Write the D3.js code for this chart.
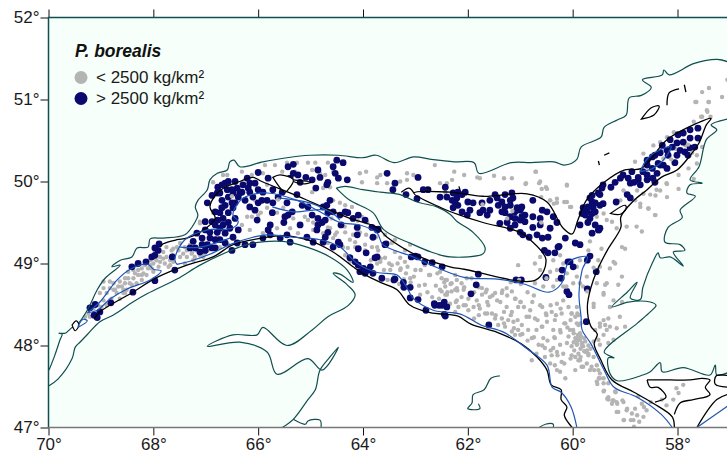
<!DOCTYPE html>
<html>
<head>
<meta charset="utf-8">
<script src="https://cdn.jsdelivr.net/npm/d3@7"></script>
<style>
    html, body { margin: 0; padding: 0; background: #fff; overflow: hidden; }
    svg { display: block; }
    text { font-family: "Liberation Sans", Arial, sans-serif; }
</style>
</head>
<body>
<div id="map"></div>
<script>
/**
 * Axis ticks, in degrees.
 */
const lonTicks = [70, 68, 66, 64, 62, 60, 58];
const latTicks = [52, 51, 50, 49, 48, 47];

/**
 * Legend entries.
 */
const legendTitle = "P. borealis";
const legendLabels = ["< 2500 kg/km²", "> 2500 kg/km²"];

/**
 * Coast lines, [longitude west, latitude].
 */
const northShore = [[69.99,47.70],[69.88,47.88],[69.78,48.07],[69.74,48.14],[69.80,48.15],[69.68,48.15],[69.55,48.22],[69.46,48.25],[69.26,48.43],[69.07,48.68],[68.92,48.82],[68.63,48.98],[68.79,48.96],[68.63,49.04],[68.41,49.08],[68.31,49.19],[68.10,49.20],[68.06,49.30],[67.81,49.31],[67.40,49.35],[67.20,49.51],[67.15,49.59],[67.20,49.69],[67.15,49.77],[66.97,49.90],[66.92,50.02],[66.78,50.10],[66.59,50.14],[66.54,50.24],[66.46,50.26],[66.35,50.18],[65.91,50.24],[65.45,50.29],[65.01,50.32],[64.47,50.32],[64.0,50.29],[63.75,50.32],[63.41,50.23],[63.03,50.30],[62.70,50.27],[62.26,50.24],[61.88,50.23],[61.79,50.10],[61.17,50.23],[60.79,50.23],[60.36,50.24],[60.16,50.20],[59.92,50.27],[59.84,50.42],[59.46,50.54],[59.40,50.66],[59.15,50.75],[58.98,50.81],[58.92,51.02],[58.69,51.05],[58.50,51.15],[58.67,51.24],[58.29,51.30],[58.26,51.36],[58.16,51.30],[57.68,51.44],[57.24,51.49],[57.0,51.45]];
const newfoundland = [[57.0,50.77],[57.36,50.69],[57.25,50.63],[57.45,50.51],[57.59,50.18],[57.76,50.02],[57.53,49.98],[57.76,49.96],[57.82,49.86],[57.66,49.82],[57.95,49.65],[57.91,49.56],[58.18,49.44],[58.24,49.26],[57.95,49.23],[57.86,49.16],[58.08,49.14],[57.89,48.97],[58.14,49.08],[58.33,49.07],[58.37,49.13],[58.47,49.02],[58.66,48.71],[58.71,48.56],[58.90,48.58],[58.77,48.77],[58.96,48.65],[59.25,48.47],[58.94,48.53],[58.52,48.53],[58.41,48.49],[58.52,48.41],[58.77,48.27],[59.40,47.92],[59.21,47.85],[59.32,47.85],[59.29,47.66],[59.15,47.57],[58.66,47.64],[58.52,47.68],[58.33,47.79],[58.29,47.68],[57.89,47.73],[57.38,47.64],[57.28,47.76],[57.25,47.64],[57.0,47.68]];
const southShore = [[69.99,47.51],[69.82,47.59],[69.55,47.84],[69.49,47.98],[69.40,48.04],[69.25,48.14],[69.02,48.29],[68.77,48.37],[68.39,48.53],[68.12,48.63],[67.55,48.81],[67.11,48.98],[66.59,49.14],[66.16,49.24],[65.53,49.27],[65.07,49.20],[64.63,49.08],[64.30,48.92],[64.19,48.77],[64.44,48.87],[64.57,48.88],[64.30,48.74],[64.15,48.62],[64.28,48.49],[64.67,48.35],[64.97,48.19],[65.45,48.00],[65.91,48.22],[66.02,48.13],[66.48,48.13],[66.97,47.99],[66.35,48.04],[65.83,47.92],[65.64,47.65],[65.05,47.84],[64.78,47.70],[64.47,47.98],[64.63,47.86],[64.82,47.70],[64.91,47.46],[65.05,47.34],[65.33,47.10],[65.54,47.00]];
const anticosti = [[64.51,49.92],[64.34,49.94],[64.0,49.90],[63.67,49.87],[63.29,49.84],[62.97,49.75],[62.59,49.69],[62.34,49.60],[62.20,49.51],[61.90,49.38],[61.67,49.19],[61.71,49.12],[62.34,49.08],[62.70,49.14],[63.04,49.23],[63.60,49.41],[63.81,49.62],[64.25,49.77]];
const smallCoasts = [
    [[61.39,47.63],[61.56,47.60],[61.69,47.46],[61.90,47.40],[61.92,47.30],[62.0,47.23],[61.77,47.23],[61.80,47.29]],
    [[60.64,47.0],[60.52,47.04],[60.37,47.04],[60.37,47.0]],
    [[65.33,47.10],[65.10,47.04],[65.05,47.08],[64.82,47.09],[64.80,47.0]],
];

/**
 * Black contours.
 */
const blackContours = [
    [[69.13,48.32],[69.02,48.41],[68.39,48.65],[67.93,48.83],[67.36,48.98],[66.86,49.08],[66.48,49.23],[66.02,49.30],[65.53,49.34],[65.07,49.29],[64.57,49.14],[64.19,48.96],[63.98,48.87],[63.67,48.77],[63.35,48.68],[63.10,48.49],[62.72,48.40],[62.20,48.36],[61.94,48.26],[61.44,48.16],[60.98,48.02],[60.68,47.86],[60.49,47.70],[60.41,47.52],[60.22,47.46],[60.22,47.34],[60.11,47.25],[60.16,47.15],[60.01,47.0]],
    [[67.87,49.20],[67.81,49.24],[67.55,49.29],[67.36,49.31],[67.11,49.38],[66.82,49.55],[66.92,49.69],[66.78,49.86],[66.63,49.93],[66.35,50.0],[66.10,50.05],[65.93,50.0],[65.43,49.87],[65.20,49.81],[64.63,49.65],[64.25,49.55],[63.73,49.44],[63.54,49.32],[62.91,49.08],[62.34,48.96],[62.07,48.93],[60.70,48.80],[60.51,49.05],[60.81,49.29],[61.0,49.38],[61.71,49.50],[62.15,49.59],[62.51,49.68],[63.03,49.86],[62.34,49.87],[61.71,49.82],[60.87,49.85],[60.49,49.75],[60.18,49.43],[60.01,49.36],[59.90,49.53],[59.74,49.77],[59.40,49.99],[59.02,50.14],[58.69,50.16],[58.20,50.51],[57.63,50.71],[57.36,50.77],[57.45,50.69],[57.59,50.47],[57.78,50.30],[58.01,50.14],[58.31,50.05],[58.58,49.90],[58.83,49.77],[59.08,49.57],[59.08,49.44],[59.34,49.16],[59.53,48.92],[59.65,48.71],[59.72,48.47],[59.65,48.23],[59.53,48.14],[59.59,48.02],[59.46,47.82],[59.25,47.58],[58.83,47.43],[58.45,47.29],[58.10,47.13],[58.06,47.0]],
    [[58.58,47.58],[58.52,47.49],[58.37,47.49],[58.22,47.37],[58.43,47.31]],
    [[58.58,47.58],[58.14,47.58],[57.76,47.58],[57.53,47.60],[57.38,47.58],[57.47,47.49],[57.38,47.40],[57.70,47.34],[57.95,47.30],[58.06,47.16]],
    [[57.63,47.0],[57.25,47.34],[57.0,47.41]],
    [[57.0,47.63],[57.26,47.63],[57.28,47.53],[57.0,47.49]],
    [[63.27,49.87],[63.12,49.92],[63.03,49.86]],
    [[62.80,49.93],[62.72,49.91]],
    [[62.17,49.94],[62.15,49.90]],
    [[57.97,51.13],[58.16,51.08],[58.20,50.93]],
    [[57.87,51.18],[57.84,51.09]],
    [[59.40,50.32],[59.30,50.35]],
    [[59.51,50.25],[59.49,50.20]],
    [[65.33,50.02],[64.99,49.99],[65.16,49.97],[65.33,50.0]],
];
const blackIslands = [
    [[69.55,48.25],[69.47,48.30],[69.42,48.25],[69.49,48.18]],
    [[58.69,50.76],[58.50,50.90],[58.35,50.92],[58.45,50.81]],
    [[59.28,49.61],[59.0,49.71],[58.98,49.67],[59.09,49.60]],
    [[65.72,50.05],[65.58,50.08],[65.33,50.02],[65.43,49.90],[65.49,49.87]],
];

/**
 * Blue contours.
 */
const blueContours = [
    [[69.44,48.23],[69.34,48.32],[69.26,48.30],[69.44,48.22]],
    [[69.26,48.40],[69.02,48.53],[68.69,48.80],[68.44,48.93],[68.10,48.99],[68.0,48.93],[67.85,48.91],[68.06,48.80],[68.50,48.69],[68.82,48.57],[69.07,48.43],[69.26,48.40]],
    [[67.55,48.99],[67.24,49.04],[66.86,49.13],[66.54,49.23],[66.10,49.32],[65.83,49.35],[65.33,49.32],[64.82,49.29],[64.44,49.20],[64.11,49.0],[63.73,48.89],[63.35,48.86],[63.14,48.68],[63.05,48.58],[62.66,48.43],[62.13,48.38],[61.75,48.25],[61.31,48.16],[60.87,47.96],[60.49,47.76],[60.39,47.49],[60.22,47.43],[60.03,47.25],[59.92,47.0]],
    [[67.55,48.99],[67.59,49.05],[67.40,49.29],[66.96,49.41],[66.50,49.43],[66.38,49.51],[66.48,49.59],[66.38,49.74],[66.25,49.81],[65.83,49.86],[65.26,49.77],[64.82,49.63],[64.44,49.50],[64.06,49.47],[63.73,49.37],[63.62,49.23],[63.04,49.08],[62.70,48.98],[62.07,48.83],[61.44,48.81],[60.93,48.75],[60.45,48.65],[60.22,48.75],[60.07,49.02],[59.72,49.08],[59.82,48.92],[59.88,48.63],[59.84,48.35],[59.82,48.19],[59.65,48.02],[59.40,47.70],[59.21,47.49],[58.77,47.37],[58.31,47.16],[58.10,47.0]],
    [[65.73,49.69],[65.33,49.63],[64.69,49.65],[64.44,49.53]],
    [[65.62,49.80],[65.01,49.74],[64.69,49.65]],
    [[67.49,49.20],[67.11,49.20],[66.54,49.31]],
    [[58.71,50.12],[58.56,50.29],[58.20,50.42],[58.12,50.43],[58.27,50.26],[58.47,50.16],[58.71,50.12]],
    [[57.63,47.0],[57.0,47.28]],
];

/**
 * Catch below the density limit.
 */
const lowCatch = [[62.50,48.82],[62.40,48.80],[62.31,48.76],[62.21,48.80],[62.12,48.76],[62.02,48.82],[61.93,48.82],[62.43,48.72],[62.31,48.66],[62.21,48.70],[62.08,48.68],[62.12,48.59],[61.99,48.57],[62.40,48.62],[62.50,48.66],[62.21,48.55],[62.34,48.51],[62.18,48.47],[62.08,48.49],[61.99,48.43],[61.89,48.47],[62.24,48.41],[61.83,48.55],[61.73,48.70],[61.73,48.62],[61.64,48.68],[61.58,48.59],[61.48,48.64],[61.61,48.49],[61.77,48.45],[61.67,48.39],[61.54,48.39],[61.38,48.53],[61.35,48.64],[61.26,48.70],[61.16,48.66],[61.10,48.57],[61.0,48.53],[61.04,48.47],[61.26,48.47],[61.16,48.41],[61.48,48.33],[61.35,48.33],[61.23,48.31],[61.42,48.25],[61.29,48.23],[61.13,48.29],[61.04,48.19],[61.16,48.17],[61.0,48.13],[61.10,48.13],[60.97,48.25],[60.88,48.35],[60.81,48.43],[60.62,48.49],[60.72,48.33],[60.85,48.19],[60.78,48.09],[60.69,48.19],[60.59,48.23],[60.50,48.37],[60.40,48.41],[60.30,48.51],[60.18,48.55],[60.34,48.31],[60.49,48.29],[60.21,48.39],[60.08,48.47],[60.02,48.39],[59.92,48.47],[59.89,48.37],[60.14,48.27],[60.37,48.19],[60.56,48.09],[60.65,48.01],[60.53,47.97],[60.34,48.09],[60.24,48.19],[60.05,48.19],[59.89,48.25],[59.86,48.15],[59.95,48.09],[60.08,48.11],[59.86,48.07],[59.92,48.01],[60.02,47.99],[59.80,47.99],[60.11,48.03],[60.24,48.01],[60.37,47.97],[60.30,47.92],[60.40,47.88],[60.18,47.90],[60.02,47.88],[59.89,47.90],[59.73,47.94],[59.89,47.82],[59.73,47.78],[59.60,47.86],[59.83,47.74],[59.67,47.70],[59.54,47.76],[59.48,47.66],[59.54,47.56],[59.41,47.60],[59.32,47.54],[59.41,47.44],[59.32,47.37],[59.22,47.33],[59.19,47.44],[59.16,47.19],[60.21,47.80],[60.34,47.76],[60.43,47.78],[60.30,47.70],[60.14,47.60],[60.24,47.68],[59.95,47.70],[60.53,47.86],[60.69,47.90],[60.78,47.82],
    [61.04,48.98],[60.72,49.0],[60.62,49.08],[60.24,49.10],[60.18,49.0],[60.37,49.04],[60.30,48.92],[60.62,48.92],[60.43,48.90],[60.11,48.88],[59.92,48.96],[59.86,49.04],[59.92,48.84],[59.99,48.76],[59.73,48.84],[59.80,48.72],[59.86,48.76],[60.30,48.80],[60.37,48.72],[60.18,48.72],[60.56,48.72],[60.72,48.76],
    [59.48,48.96],[59.22,49.02],[59.35,48.76],[59.41,48.64],[59.22,48.55],[59.54,48.76],[59.60,48.51],[59.41,48.31],[59.38,48.25],[59.48,48.23],[59.57,48.19],[59.41,48.13],[59.32,48.03],[59.48,48.01],[59.60,48.05],
    [59.98,48.15],[59.90,48.13],[59.84,48.11],[59.78,48.09],[59.82,48.03],[59.76,48.05],[59.93,48.07],[59.98,48.04],[59.70,48.0],[59.66,47.96],[59.78,47.93],[59.70,47.88],[59.85,47.96],
    [63.58,49.07],[63.39,49.14],[63.20,49.02],[63.48,48.92],[63.0,48.92],[62.72,48.86],[62.43,48.80],[63.29,48.92],[62.82,48.74],[63.10,48.82],[62.53,48.68],[62.24,48.68],[62.91,48.62],[62.68,48.59],[62.43,48.62],[63.20,49.16],[63.45,49.25],[63.71,49.16],[62.82,48.98],[62.53,48.90],[62.24,48.86],[63.96,49.23],[64.25,49.29],[64.34,49.38],[64.06,49.38],[64.63,49.43],[64.53,49.35],[64.34,49.10],[64.25,49.02],[63.67,49.02],[63.29,49.07],[63.94,49.35],[63.83,49.20],[64.15,49.26],[64.67,49.25],[64.29,49.19],[63.39,49.29],[63.10,49.23],[63.58,49.35],
    [65.87,50.2],[65.68,50.2],[65.45,50.23],[65.26,50.23],[65.05,50.23],[64.91,50.23],[64.72,50.08],[64.57,50.12],[64.67,50.23],[64.82,50.10],[64.97,50.14],[65.07,50.05],[65.30,50.12],[65.54,50.12],[66.31,50.12],[66.59,50.08],[66.12,50.08],[65.91,50.10],[65.83,49.96],[64.06,50.10],[63.94,50.12],[62.63,50.20],[63.67,50.08],[64.02,49.99],[63.73,49.98],[63.54,49.98],[63.16,50.10],[63.04,50.08],[63.16,50.02],[63.29,50.0],[62.53,49.98],[62.40,49.98],[62.43,49.87],[63.73,50.05],[62.26,50.12],[62.07,50.08],[61.82,50.05],[61.50,50.07],[61.31,50.04],[61.16,50.04],[60.70,50.12],[60.89,49.98],[60.64,49.98],[60.51,49.93],[60.11,49.96],[60.60,49.81],[60.30,49.74],[60.16,49.75],[60.03,49.69],[60.43,49.77],[62.30,50.02],[61.77,50.04],
    [66.86,49.99],[66.67,50.08],[67.01,49.53],[67.11,49.51],[66.73,49.69],[66.86,49.62],[66.67,49.57],[66.50,49.71],[66.21,49.57],[66.12,49.57],[66.0,49.59],[66.06,49.77],[65.83,49.68],[65.64,49.62],[65.52,49.68],[65.33,49.55],[65.11,49.57],[64.95,49.50],[64.67,49.44],[64.50,49.38],[64.97,49.87],[64.76,49.92],[64.63,49.93],[64.57,49.77],[64.44,49.74],[64.34,49.71],[64.21,49.69],[64.02,49.57],[63.92,49.50],[64.95,49.41],[64.76,49.37],[64.57,49.31],[64.38,49.20],[64.19,49.35],[63.96,49.16],[63.73,49.20],[64.15,49.20],[67.24,49.04],[67.40,49.0],[67.26,49.13],[67.05,49.08],[66.96,49.16],[66.73,49.20],[66.57,49.23],[67.05,49.29],[66.78,49.32],[65.91,49.37],[65.64,49.43],[65.39,49.43],[65.24,49.37],[65.77,49.44],[66.16,49.41],[66.31,49.47],[65.05,49.53],[64.60,49.55],[64.35,49.45],[63.75,49.32],
    [69.30,48.35],[69.24,48.39],[69.14,48.45],[69.05,48.49],[68.95,48.55],[69.02,48.64],[68.83,48.78],[68.89,48.64],[68.76,48.68],[68.64,48.78],[68.54,48.76],[68.67,48.72],[68.57,48.68],[68.48,48.82],[68.38,48.82],[68.29,48.86],[68.41,48.74],[68.32,48.76],[68.22,48.80],[68.13,48.86],[68.0,48.90],[68.10,48.94],[68.29,48.92],[68.64,48.57],[68.70,48.64],[68.57,48.64],[68.22,48.94],[68.0,49.0],[67.87,49.02],[67.90,48.96],[67.78,49.0],[67.68,49.04],[67.75,49.08],[67.87,49.08],[67.81,49.14],[67.65,49.16],[67.55,49.20],[67.49,49.25],[67.62,49.10],[68.06,49.04],[67.97,49.14],[67.75,49.20],[67.43,49.12],[67.40,49.20],[67.30,49.23],[67.36,49.16],[67.11,49.10],[67.21,49.08],[67.02,49.12],[68.95,48.78],[67.11,49.49],[68.48,48.90],[67.52,49.16],[67.68,48.98],[68.76,48.76],[68.80,48.57],
    [69.21,48.35],[69.11,48.39],[68.99,48.47],[68.89,48.49],[68.83,48.55],[68.73,48.68],[68.51,48.68],[68.45,48.76],[68.83,48.70],[68.95,48.70],[68.60,48.72],[68.54,48.82],[68.35,48.88],[68.19,48.88],[68.03,48.94],[67.94,49.04],[67.81,49.06],[67.71,48.96],[67.62,49.02],[67.49,49.08],[67.36,49.08],[67.27,49.12],[67.17,49.16],[67.62,49.18],[67.87,49.16],[68.16,48.98],[68.22,48.86],[68.06,48.98],[68.38,48.92],[68.32,48.98],[68.54,48.64],
    [58.21,49.98],[58.40,49.90],[58.52,49.84],[58.71,49.73],[58.56,49.67],[58.43,49.59],[58.68,49.39],[58.97,49.45],[58.78,49.45],[59.16,49.43],[59.25,49.51],[59.35,49.53],[59.0,49.18],[59.06,49.20],[59.45,49.18],[59.67,49.27],[59.19,49.0],[59.51,49.04],[59.29,48.94],[59.06,48.84],[59.13,48.74],[59.41,48.62],[59.60,48.47],[59.29,48.47],[59.06,48.53],[59.48,48.27],[59.32,48.33],[59.10,48.35],[59.0,48.23],[59.16,48.21],[59.29,48.23],[59.35,48.19],[59.22,48.07],[59.51,48.07],[60.02,48.39],[59.95,48.35],[59.92,48.27],[59.99,48.19],[59.89,48.07],[59.95,47.86],[59.86,47.82],[59.70,47.90],[59.80,47.74],[59.64,47.74],[59.51,47.70],[59.48,47.60],[59.41,47.54],[59.32,47.34],[59.25,47.29],[59.16,47.31],[59.03,47.31],[59.13,47.19],[58.97,47.21],[58.87,47.17],[58.75,47.38],[58.68,47.29],[58.81,47.23],[58.30,47.34],[58.21,47.27],[58.59,47.21],[59.03,47.09],[58.84,47.09],[58.65,47.13],[57.98,47.42],[58.02,47.48],[57.89,47.52],[58.08,47.34],[59.38,48.74],[59.70,49.16],
    [57.44,50.87],[57.37,50.79],[57.53,50.79],[57.69,50.73],[57.76,50.64],[58.07,50.60],[58.20,50.54],[58.33,50.48],[58.46,50.44],[58.65,50.34],[58.81,50.24],[57.63,50.32],[57.53,50.42],[57.63,50.22],[57.79,50.16],[57.98,50.08],[57.69,50.03],[57.98,49.91],[58.20,49.97],[58.33,49.89],[58.42,49.83],[58.65,49.85],[58.81,49.77],[58.55,49.67],[58.71,49.69],[58.42,49.59],[58.20,49.81],[57.66,50.97],[57.41,50.97],[57.64,50.97],[57.53,51.09],[57.40,51.14],[57.40,50.97],[57.43,50.85],[57.55,50.79],[57.15,51.03],[57.05,51.24],
    [60.43,49.77],[60.30,49.79],[60.11,49.75],[60.05,49.69],[60.36,49.73],[60.59,49.91],[60.49,49.91],[60.71,50.12],[60.90,49.97],[60.62,50.0],[60.11,49.95],
    [59.41,49.61],[59.09,49.77],[58.77,49.89],[59.03,49.89],[58.04,50.40],[57.85,50.44],[58.27,50.28],[59.54,49.57],
    [63.28,48.94],[63.18,48.88],[63.03,48.84],[62.90,48.92],[62.74,48.86],[62.58,48.88],[62.45,48.77],[62.33,48.75],[62.20,48.67],[62.07,48.71],[62.39,48.65],[62.61,48.73],[62.77,48.65],[62.93,48.73],[63.09,48.77],[63.22,48.81],[63.31,48.75],[63.41,48.84],[63.53,48.80],[63.60,48.92],[63.73,49.0],[63.85,49.04],[63.66,49.06],[63.50,49.0],[63.34,49.0],[63.15,48.96],[62.55,48.57],[62.23,48.53],[62.04,48.49],[61.79,48.49],[61.63,48.53],[61.44,48.55],[61.25,48.61],[61.09,48.57],[60.99,48.53],[60.93,48.47],[60.77,48.53],[60.83,48.35],[61.05,48.31],[61.18,48.37],[61.31,48.41],[61.47,48.37],[61.63,48.39],[61.79,48.37],[61.88,48.33],[61.31,48.27],[61.12,48.21],[60.96,48.14],[60.86,48.06],[60.74,48.10],[60.58,48.0],[60.48,48.06],[60.35,48.10],[60.23,48.16],[60.10,48.22],[60.42,47.94],[60.29,47.88],[60.16,47.78],[60.04,47.84],[59.91,48.02],[59.91,48.10],[59.82,48.0],[59.75,47.92],[59.85,47.86],[59.97,47.94],[59.59,47.70],[59.50,47.60],[59.53,47.53],[59.40,47.45],[59.34,47.35],[59.24,47.33],[59.15,47.29],[59.05,47.33],[58.96,47.23],[58.89,47.09],[58.77,47.15],[58.64,47.25],[58.51,47.31],[59.02,47.09],[58.83,47.01],[58.73,47.07],[59.18,47.43],[60.58,48.23],[60.67,48.31],[60.51,48.39],[60.32,48.37],[60.16,48.27],[60.04,48.31],[59.91,48.39],[59.85,48.27],[60.23,48.45],[60.42,48.49],[60.58,48.47],[60.74,48.61],[60.86,48.65],[60.99,48.75],[61.18,48.77],[61.34,48.67],[61.53,48.61],[61.66,48.65],[61.79,48.71],[61.88,48.65]];

/**
 * Catch above the density limit.
 */
const highCatch = [[69.11,48.50],[69.21,48.46],[69.07,48.34],[69.13,48.37],[69.02,48.41],[68.81,48.52],[68.39,48.65],[67.97,48.79],[67.59,48.92],[68.41,48.96],[68.29,49.0],[68.14,49.02],[68.03,49.08],[67.97,49.10],[67.91,49.16],[67.97,49.19],[67.89,49.24],[67.64,49.08],[67.24,49.27],[67.20,49.19],[67.07,49.23],[67.01,49.16],[67.01,49.51],[67.17,49.37],[66.97,49.74],[66.82,49.19],
    [66.77,49.93],[66.78,49.86],[66.63,49.98],[66.57,50.0],[66.59,49.90],[66.50,49.90],[66.40,49.92],[66.31,49.87],[66.48,49.86],[66.57,49.81],[66.38,49.81],[66.29,49.96],[66.21,50.04],[66.16,49.98],[66.06,49.98],[66.0,50.11],[65.81,50.04],[65.58,50.02],[65.43,50.18],[65.33,50.21],[65.39,50.04],[65.24,50.08],[65.33,50.10],[64.86,50.14],[64.82,50.05],[64.97,50.02],[64.90,49.92],[64.67,49.99],[66.16,49.87],[66.0,49.90],[66.10,49.81],[65.83,49.77],[66.0,49.74],[66.16,49.69],[66.06,49.65],[65.72,49.74],[65.91,49.87],[65.54,49.87],[65.26,49.84],[65.45,49.74],[65.16,49.71],[65.35,49.63],[65.49,49.57],[65.43,49.59],[65.2,49.47],[65.51,49.50],[65.77,49.47],[66.02,49.53],[65.81,49.41],[65.73,49.62],[64.97,49.59],[64.86,49.55],[64.78,49.50],[64.86,49.47],[65.05,49.69],[64.69,49.71],[66.63,49.71],[66.73,49.62],[66.67,49.55],[66.77,49.53],[66.57,49.62],[66.48,49.68],[66.67,49.47],[66.54,49.43],[66.73,49.43],[66.82,49.47],[66.92,49.38],[66.78,49.38],[66.63,49.37],[67.07,49.31],[66.92,49.31],[66.97,49.23],[66.73,49.29],[66.40,49.25],[66.25,49.23],[66.48,49.32],[66.10,49.23],[65.91,49.31],[65.77,49.35],[65.58,49.31],[65.45,49.35],[65.39,49.26],[65.07,49.32],[64.95,49.26],[64.88,49.41],[64.72,49.32],[64.67,49.38],[66.69,49.77],[66.44,49.74],
    [66.69,49.96],[66.44,50.0],[66.35,49.86],[66.25,49.77],[66.69,49.68],[66.82,49.63],[66.57,49.50],[66.44,49.55],[66.38,49.41],[66.88,49.51],[67.01,49.41],[66.82,49.29],[66.63,49.25],[66.50,49.16],[67.11,49.14],[67.30,49.19],[66.88,49.19],[65.93,49.77],[65.62,49.81],[65.72,49.90],[65.2,49.99],[65.09,50.05],[66.19,49.92],[66.50,49.74],[66.73,49.86],[66.88,49.83],[64.15,49.02],[64.25,49.07],
    [64.50,50.26],[64.38,50.23],[64.57,50.18],[64.53,50.10],[64.47,50.04],[64.30,50.02],[64.69,49.96],[63.54,50.10],[62.95,50.05],[63.39,49.98],[63.43,49.90],[63.18,49.84],[62.97,49.79],[62.85,49.90],[62.76,49.90],[62.53,49.81],[62.43,49.93],[62.40,49.81],[64.63,49.77],[64.76,49.69],[64.67,49.62],[64.57,49.63],[64.34,49.63],[64.29,49.62],[64.44,49.59],[64.72,49.53],[64.42,49.47],[64.09,49.59],[64.19,49.55],[63.96,49.53],[64.11,49.44],[63.83,49.44],[63.71,49.42],[63.81,49.32],[64.11,49.35],[64.76,49.26],[64.47,49.26],[64.44,49.23],[64.57,49.20],[64.09,49.18],[63.94,49.13],[63.77,49.07],[63.58,49.23],[64.09,48.98],[63.99,48.94],[64.06,48.90],[63.90,48.92],[63.81,48.88],[63.86,48.96],[63.96,48.88],[63.64,48.82],[63.39,48.81],[63.10,48.71],[63.23,48.77],[63.10,48.58],[62.95,48.56],[62.63,48.49],[62.49,48.49],[62.40,48.47],[62.43,48.36],[63.0,49.09],[62.95,49.08],[62.82,49.02],[62.49,48.96],[62.68,49.01],[63.73,49.08],[63.56,49.24],[63.73,49.41],[63.08,49.08],[63.22,48.71],[63.41,48.80],[62.80,48.43],[62.64,48.51],[62.55,48.49],[62.45,48.53],[62.45,48.38],
    [62.28,49.86],[62.19,49.87],[62.05,49.87],[62.21,49.80],[62.11,49.84],[62.30,49.77],[62.0,49.75],[61.90,49.74],[62.24,49.74],[62.28,49.68],[62.11,49.63],[62.01,49.59],[61.73,49.74],[61.77,49.62],[61.63,49.59],[61.44,49.80],[61.48,49.84],[61.29,49.84],[61.16,49.86],[61.35,49.75],[61.29,49.69],[61.14,49.80],[60.97,49.69],[61.06,49.68],[61.35,49.63],[61.19,49.57],[61.10,49.55],[61.0,49.53],[60.91,49.59],[60.97,49.57],[61.39,49.49],[61.19,49.43],[61.0,49.38],[60.95,49.35],[60.83,49.32],[60.76,49.77],[60.58,49.65],[60.76,49.57],[60.62,49.55],[60.49,49.63],[60.37,49.57],[60.43,49.43],[60.30,49.50],[60.68,49.35],[60.58,49.31],[60.47,49.32],[60.14,49.31],[60.28,49.20],[60.54,49.16],[60.47,49.13],[60.34,49.13],[59.95,49.25],[59.86,49.23],[61.71,49.65],[61.19,49.71],[61.42,49.71],[61.58,49.77],
    [61.96,49.65],[62.19,49.71],[61.58,49.65],[61.29,49.62],[61.10,49.63],[61.19,49.77],[61.0,49.65],[60.91,49.51],[61.10,49.47],[61.25,49.50],[60.62,49.47],[60.76,49.44],
    [60.26,49.21],[59.63,49.37],[59.50,49.41],[60.05,49.02],[60.20,48.92],[60.51,48.83],[60.11,48.66],[60.07,48.62],[59.72,49.04],[59.99,48.96],[61.94,48.63],[61.84,48.74],[61.80,48.87],[61.08,48.80],[60.98,48.80],[61.60,48.25],[59.72,48.69],[59.55,48.90],[59.74,48.29],[60.22,48.82],[59.67,49.09],[60.09,49.02],
    [57.61,50.65],[57.89,50.59],[57.76,50.53],[57.61,50.53],[57.67,50.42],[57.89,50.48],[58.01,50.47],[58.10,50.42],[57.86,50.36],[57.80,50.32],[58.01,50.32],[58.20,50.38],[58.33,50.35],[58.18,50.32],[58.43,50.32],[58.48,50.30],[58.58,50.26],[58.05,50.23],[58.27,50.20],[58.20,50.16],[58.58,50.20],[58.48,50.16],[58.39,50.10],[58.66,50.12],[58.75,50.05],[58.75,50.02],[58.58,50.02],[58.47,50.04],[58.43,49.99],[58.58,50.08],[58.87,50.12],[59.04,50.08],[58.94,50.04],[59.09,50.04],[58.90,49.98],[59.19,49.99],[59.27,49.93],[59.42,49.96],[58.96,49.84],[58.90,49.80],[59.17,49.75],[59.42,49.73],[59.44,49.92],[59.51,49.86],[59.67,49.80],[59.63,49.75],[59.57,49.74],[59.71,49.69],[59.61,49.68],[59.73,49.63],[59.63,49.61],[59.80,49.68],[59.82,49.61],[59.67,49.55],[59.57,49.47],[59.48,49.43],[59.86,49.47],[59.51,49.41],[58.14,50.51],[58.29,50.44],
    [59.48,49.84],[59.63,49.83],[59.76,49.59],[59.57,49.63],[59.71,49.50],[59.48,49.71],[58.71,49.96],[58.33,50.20],[57.95,50.38],[57.76,50.41],[57.99,50.57],[57.76,50.63],[58.37,50.22],[58.83,49.99]];

/**
 * Low catch hauls that were plotted on top of the high ones.
 */
const lowCatchOnTop = [[65.95,49.62],[66.50,49.82],[65.62,49.78],[64.10,49.52],[61.15,49.64],[61.25,49.55],[60.60,49.50],[57.80,50.45],[58.12,50.27],[57.72,50.35],[61.72,49.72],[63.45,48.98],[59.60,48.95],[60.12,48.72],[60.50,48.82],[61.02,48.80],[59.72,48.66]];

/**
 * Dimensions and colours of the map.
 */
const Width = 727;
const Height = 453;
const Plot = { left: 48.5, right: 727, top: 17.5, bottom: 427.5 };
const Colors = {
    land: "#f6fff9",
    water: "#ffffff",
    coast: "#0f4f4f",
    contour: "#000000",
    blue: "#1f55b5",
    low: "#b4b4b4",
    high: "#0a0a6e",
    text: "#1a1a1a",
};

const x = d3.scaleLinear().domain([70, 58]).range([Plot.left, 677.5]);
const y = d3.scaleLinear().domain([52, 47]).range([Plot.top, Plot.bottom]);
const line = d3.line().x(d => x(d[0])).y(d => y(d[1])).curve(d3.curveCatmullRom.alpha(0.5));


const createSvg = () => {
    const svg = d3.select("#map")
        .append("svg")
            .attr("width", Width)
            .attr("height", Height);
    svg.append("clipPath")
        .attr("id", "plot-clip")
        .append("rect")
            .attr("x", Plot.left)
            .attr("y", Plot.top)
            .attr("width", Plot.right - Plot.left)
            .attr("height", Plot.bottom - Plot.top);
    return svg;
}


const printLand = (map) => {
    map.append("rect")
        .attr("x", Plot.left)
        .attr("y", Plot.top)
        .attr("width", Plot.right - Plot.left)
        .attr("height", Plot.bottom - Plot.top)
        .attr("fill", Colors.land);
    // The gulf is one white shape cut out of the land.
    const water = [].concat(northShore, newfoundland, [[57.0, 47.0]], southShore.slice().reverse());
    map.append("path")
        .attr("d", line(water) + "Z")
        .attr("fill", Colors.water);
    map.append("path")
        .attr("d", line(anticosti.concat([anticosti[0]])) + "Z")
        .attr("fill", Colors.land);
}


const printLines = (map, data, color, width) => {
    map.append("g")
        .selectAll("path")
        .data(data)
        .join("path")
            .attr("d", line)
            .attr("fill", "none")
            .attr("stroke", color)
            .attr("stroke-width", width)
            .attr("stroke-linejoin", "round");
}


const printPoints = (map, data, color, radius) => {
    map.append("g")
        .selectAll("circle")
        .data(data)
        .join("circle")
            .attr("cx", d => x(d[0]))
            .attr("cy", d => y(d[1]))
            .attr("r", radius)
            .attr("fill", color);
}


const printIslands = (map) => {
    map.append("g")
        .selectAll("path")
        .data(blackIslands)
        .join("path")
            .attr("d", d => line(d.concat([d[0]])) + "Z")
            .attr("fill", Colors.water)
            .attr("stroke", Colors.contour)
            .attr("stroke-width", 1.2);
}


const printAxes = (svg) => {
    const style = (g) => {
        g.select(".domain").remove();
        g.selectAll(".tick line").attr("stroke", "#111").attr("stroke-width", 1);
        g.selectAll(".tick text")
            .attr("fill", Colors.text)
            .style("font-size", "17px");
    }
    const degrees = d => d + "°";
    svg.append("g")
        .attr("transform", `translate(${Plot.left},0)`)
        .call(d3.axisLeft(y).tickValues(latTicks).tickFormat(degrees).tickSize(8).tickPadding(1))
        .call(style);
    svg.append("g")
        .attr("transform", `translate(0,${Plot.bottom})`)
        .call(d3.axisBottom(x).tickValues(lonTicks).tickFormat(degrees).tickSize(8).tickPadding(2))
        .call(style);
    svg.append("g")
        .attr("transform", `translate(0,${Plot.top})`)
        .call(d3.axisTop(x).tickValues(lonTicks).tickFormat("").tickSize(8))
        .call(style);
    // The frame has no right side.
    svg.append("path")
        .attr("d", `M${Plot.right},${Plot.top}H${Plot.left}V${Plot.bottom}`)
        .attr("fill", "none")
        .attr("stroke", Colors.coast)
        .attr("stroke-width", 1.5);
    svg.append("line")
        .attr("x1", Plot.left)
        .attr("x2", Plot.right)
        .attr("y1", Plot.bottom)
        .attr("y2", Plot.bottom)
        .attr("stroke", "#777")
        .attr("stroke-width", 1.5);
}


const printLegend = (svg) => {
    svg.append("text")
        .attr("x", 75)
        .attr("y", 57)
        .attr("fill", "#111")
        .style("font-size", "17.5px")
        .style("font-weight", "bold")
        .style("font-style", "italic")
        .text(legendTitle);
    const rows = [Colors.low, Colors.high];
    svg.selectAll("legend")
        .data(rows)
        .join("circle")
            .attr("cx", 81)
            .attr("cy", (d, i) => 77.5 + i * 21)
            .attr("r", 6.5)
            .attr("fill", d => d);
    svg.selectAll("legend")
        .data(legendLabels)
        .join("text")
            .attr("x", 96)
            .attr("y", (d, i) => 83 + i * 21)
            .attr("fill", Colors.text)
            .style("font-size", "17px")
            .text(d => d);
}


const printMap = () => {
    const svg = createSvg();
    const map = svg.append("g").attr("clip-path", "url(#plot-clip)");
    printLand(map);
    // Hauls first, the contours run over them.
    printPoints(map, lowCatch, Colors.low, 2.2);
    printPoints(map, highCatch, Colors.high, 3.4);
    printPoints(map, lowCatchOnTop, Colors.low, 2.2);
    printLines(map, [northShore, newfoundland, southShore, anticosti.concat([anticosti[0]])].concat(smallCoasts), Colors.coast, 1.2);
    printIslands(map);
    printLines(map, blackContours, Colors.contour, 1.3);
    printLines(map, blueContours, Colors.blue, 1.2);
    printAxes(svg);
    printLegend(svg);
}


printMap();
</script>
</body>
</html>
